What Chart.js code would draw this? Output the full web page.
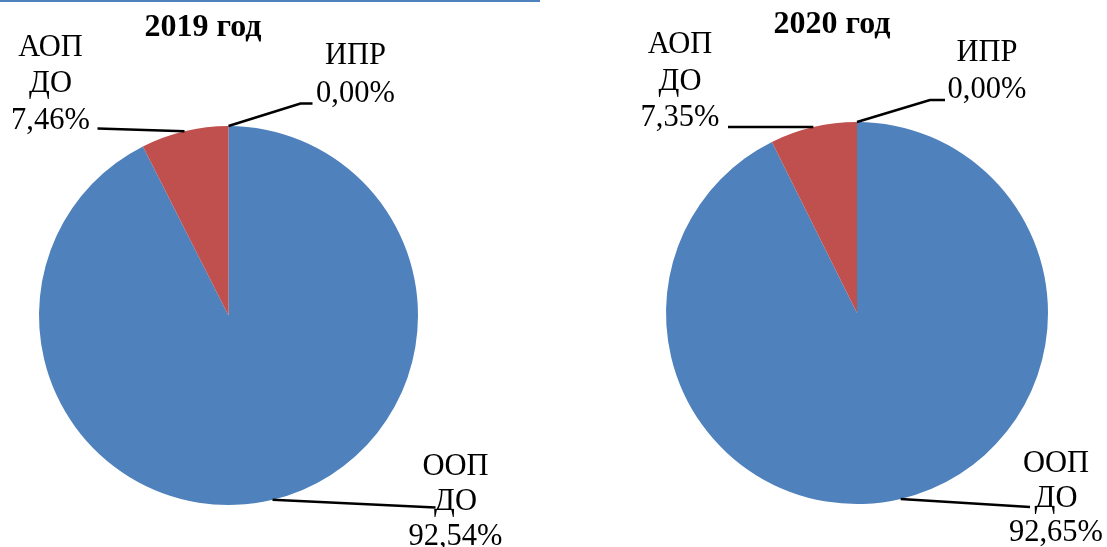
<!DOCTYPE html>
<html>
<head>
<meta charset="utf-8">
<script src="https://cdn.jsdelivr.net/npm/chart.js@4.4.1/dist/chart.umd.min.js"></script>
<style>
body { margin: 0; background: #fff; width: 1107px; height: 547px; overflow: hidden; position: relative; }
#topline { position: absolute; left: 0; top: 0; width: 540px; height: 2px; background: #4f81bd; }
canvas { position: absolute; top: 0; }
#c2019 { left: 0; }
#c2020 { left: 553px; }
</style>
</head>
<body>
<div id="topline"></div>
<canvas id="c2019" width="553" height="547"></canvas>
<canvas id="c2020" width="554" height="547"></canvas>
<script>
const categories = [["ООП", "ДО"], ["АОП", "ДО"], ["ИПР"]];
const values2019 = [92.54, 7.46, 0.00];
const values2020 = [92.65, 7.35, 0.00];
const titles = ["2019 год", "2020 год"];
const colors = ["#4f81bd", "#c0504d", "#9bbb59"];

// label placement, relative to pie centre
const place2019 = [
    { dx: 227, dy: 151, lh: 35, leader: [[207, 192]] },
    { dx: -178, dy: -268, lh: 36.5, leader: [[-131, -187]] },
    { dx: 127, dy: -260, lh: 38, leader: [[72, -212], [84, -212]] }
];
const place2020 = [
    { dx: 199, dy: 151, lh: 34.5, leader: [[173, 194]] },
    { dx: -177, dy: -268, lh: 36.5, leader: [[-129, -186]] },
    { dx: 130, dy: -260, lh: 37, leader: [[73, -213], [88, -213]] }
];

const pieLabels = {
    id: "pieLabels",
    afterDraw(chart, args, opts) {
        const ctx = chart.ctx;
        const arcs = chart.getDatasetMeta(0).data;
        const vals = chart.data.datasets[0].data;
        const cx = arcs[0].x, cy = arcs[0].y;
        ctx.save();
        ctx.fillStyle = "#000";
        ctx.textAlign = "center";
        ctx.textBaseline = "middle";
        ctx.font = "bold 32px 'Liberation Serif'";
        ctx.fillText(opts.title, opts.titleX, opts.titleY);
        ctx.font = "30.5px 'Liberation Serif'";
        ctx.strokeStyle = "#000";
        ctx.lineWidth = 2.5;
        arcs.forEach((arc, i) => {
            const p = opts.place[i];
            const mid = (arc.startAngle + arc.endAngle) / 2;
            ctx.beginPath();
            ctx.moveTo(cx + Math.cos(mid) * arc.outerRadius, cy + Math.sin(mid) * arc.outerRadius);
            p.leader.forEach(([dx, dy]) => ctx.lineTo(cx + dx, cy + dy));
            ctx.stroke();
            const lines = [...chart.data.labels[i], vals[i].toFixed(2).replace(".", ",") + "%"];
            lines.forEach((t, k) => ctx.fillText(t, cx + p.dx, cy + p.dy + k * p.lh));
        });
        ctx.restore();
    }
};

function makePie(id, values, title, titleX, titleY, padding, place) {
    new Chart(document.getElementById(id), {
        type: "pie",
        data: {
            labels: categories,
            datasets: [{
                data: values,
                backgroundColor: colors,
                borderWidth: 0
            }]
        },
        options: {
            responsive: false,
            animation: false,
            layout: { padding: padding },
            plugins: {
                legend: { display: false },
                tooltip: { enabled: false },
                pieLabels: { title: title, titleX: titleX, titleY: titleY, place: place }
            }
        },
        plugins: [pieLabels]
    });
}

makePie("c2019", values2019, titles[0], 203, 28, { left: 39, top: 126, right: 135, bottom: 42 }, place2019);
makePie("c2020", values2020, titles[1], 279, 25, { left: 113, top: 122, right: 59, bottom: 43 }, place2020);
</script>
</body>
</html>
